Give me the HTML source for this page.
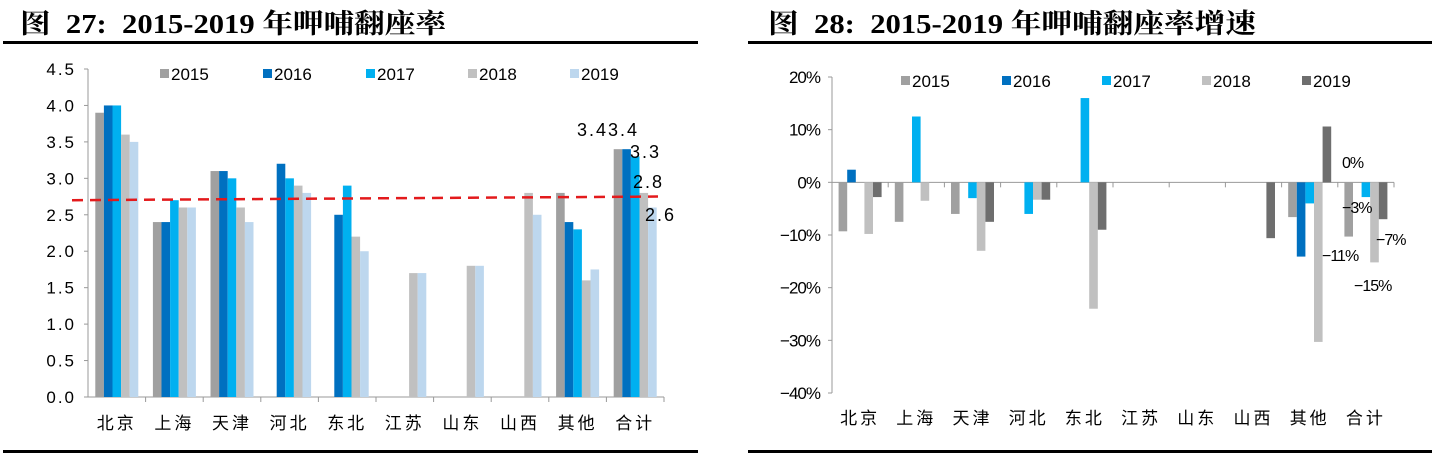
<!DOCTYPE html>
<html><head><meta charset="utf-8">
<style>
body{margin:0;background:#fff;width:1436px;height:460px;overflow:hidden;font-family:"Liberation Sans","Noto Sans CJK SC",sans-serif;}
svg{position:absolute;left:0;top:0}
</style></head>
<body>
<svg id="s" width="1436" height="460" xmlns="http://www.w3.org/2000/svg">
<text x="20" y="33" font-family="Liberation Serif,Noto Serif CJK SC,serif" font-weight="bold" font-size="27" textLength="426" lengthAdjust="spacingAndGlyphs">图&#160;&#160;27:&#160;&#160;2015-2019 年呷哺翻座率</text>
<rect x="3" y="41" width="695" height="3" fill="#000"/>
<rect x="3" y="450" width="695" height="3" fill="#000"/>
<text x="768" y="33" font-family="Liberation Serif,Noto Serif CJK SC,serif" font-weight="bold" font-size="27" textLength="488" lengthAdjust="spacingAndGlyphs">图&#160;&#160;28:&#160;&#160;2015-2019 年呷哺翻座率增速</text>
<rect x="748" y="41" width="684" height="3" fill="#000"/>
<rect x="748" y="450" width="684" height="3" fill="#000"/>
<g id="L"></g><g id="R"></g>
</svg>
<script>
const categories=["北京","上海","天津","河北","东北","江苏","山东","山西","其他","合计"];
const years=["2015","2016","2017","2018","2019"];
const rate2015=[3.9,2.4,3.1,0,0,0,0,0,2.8,3.4];
const rate2016=[4.0,2.4,3.1,3.2,2.5,0,0,0,2.4,3.4];
const rate2017=[4.0,2.7,3.0,3.0,2.9,0,0,0,2.3,3.3];
const rate2018=[3.6,2.6,2.6,2.9,2.2,1.7,1.8,2.8,1.6,2.8];
const rate2019=[3.5,2.6,2.4,2.8,2.0,1.7,1.8,2.5,1.75,2.6];
const avgLine=[2.7,2.75];
const leftTicks=["0.0","0.5","1.0","1.5","2.0","2.5","3.0","3.5","4.0","4.5"];
const growth2015=[-9.3,-7.5,-6,0,0,0,0,0,-6.6,-10.3];
const growth2016=[2.4,0,0,0,0,0,0,0,-14.1,0];
const growth2017=[0,12.5,-3,-6,16,0,0,0,-4,-2.8];
const growth2018=[-9.8,-3.5,-13,-3.3,-24,0,0,0,-30.3,-15.2];
const growth2019=[-2.8,0,-7.5,-3.3,-9,0,0,-10.6,10.6,-7];
const rightTicks=[20,10,0,-10,-20,-30,-40];
const NS="http://www.w3.org/2000/svg";
function mk(p,t,a,txt){const e=document.createElementNS(NS,t);for(const k in a)e.setAttribute(k,a[k]);if(txt!==undefined)e.textContent=txt;p.appendChild(e);return e;}
function draw(g,o){
  const y=v=>o.y0-(v-o.vmin)/(o.vmax-o.vmin)*(o.y0-o.y1);
  const cw=(o.x1-o.x0)/categories.length, bw=8.6, off=(cw-5*bw)/2;
  let a=mk(g,'line',{x1:o.x0,y1:o.y1,x2:o.x0,y2:o.y0,stroke:'#999','stroke-width':1});
  
  o.ticks.forEach(t=>{const yy=y(t.v);
    mk(g,'line',{x1:o.x0-4,y1:yy,x2:o.x0,y2:yy,stroke:'#999'});
    const e=mk(g,'text',{x:o.x0-12,y:yy+6,'text-anchor':'end','font-size':17,fill:'#000','letter-spacing':o.ls},t.l);
    });
  const zy=y(o.base);
  let xa=mk(g,'line',{x1:o.x0,y1:zy,x2:o.x1,y2:zy,stroke:'#999','stroke-width':1});
  
  categories.forEach((c,i)=>{const cx=o.x0+cw*i;
    mk(g,'line',{x1:cx+cw,y1:zy,x2:cx+cw,y2:zy+5,stroke:'#999'});
    const e=mk(g,'text',{x:cx+cw/2,y:o.labY,'text-anchor':'middle','font-size':17,'letter-spacing':3},c);
    
    o.series.forEach((s,j)=>{const v=s[i]; if(!v) return;
      const yv=y(v), top=Math.min(yv,zy), h=Math.abs(yv-zy);
      const r=mk(g,'rect',{x:cx+off+j*bw,y:top,width:bw,height:h,fill:o.colors[j]});
      });
  });
  years.forEach((yr,j)=>{const lx=o.legX[j];
    const r=mk(g,'rect',{x:lx,y:o.legY-6,width:9,height:9,fill:o.colors[j]});
    
    const t=mk(g,'text',{x:lx+11,y:o.legY+5,'font-size':17},yr);
    });
  return y;
}
const L=document.getElementById('L'),R=document.getElementById('R');
const yl=draw(L,{p:'left',x0:88,x1:664,y0:397,y1:69,vmin:0,vmax:4.5,base:0,ls:2,
  ticks:leftTicks.map(t=>({v:+t,l:t})),labY:429,
  series:[rate2015,rate2016,rate2017,rate2018,rate2019],
  colors:['#a0a0a0','#0070c0','#00b0f0','#c0c0c0','#bdd7ee'],
  legX:[160,263,366,468,570],legY:75});
const dl=mk(L,'line',{x1:72,y1:yl(avgLine[0]),x2:658,y2:yl(avgLine[1]),stroke:'#e31a1c','stroke-width':2.5,'stroke-dasharray':'11,7'});

[["3.43.4",577,136],["3.3",630,158],["2.8",633,188],["2.6",645,221]].forEach(d=>{
  const t=mk(L,'text',{x:d[1],y:d[2],'font-size':18,'letter-spacing':2},d[0]);
  });
draw(R,{p:'right',x0:832,x1:1394,y0:393,y1:77,vmin:-40,vmax:20,base:0,ls:-1,
  ticks:rightTicks.map(v=>({v:v,l:(v<0?'−':'')+Math.abs(v)+'%'})),labY:424,
  series:[growth2015,growth2016,growth2017,growth2018,growth2019],
  colors:['#a0a0a0','#0070c0','#00b0f0','#c0c0c0','#6e6e6e'],
  legX:[901,1002,1102,1202,1302],legY:82});
[["0%",1342,168],["−3%",1342,213],["−7%",1376,245],["−11%",1322,261],["−15%",1354,291]].forEach(d=>{
  const t=mk(R,'text',{x:d[1],y:d[2],'font-size':16,'letter-spacing':-1},d[0]);
  });
</script>
</body></html>
